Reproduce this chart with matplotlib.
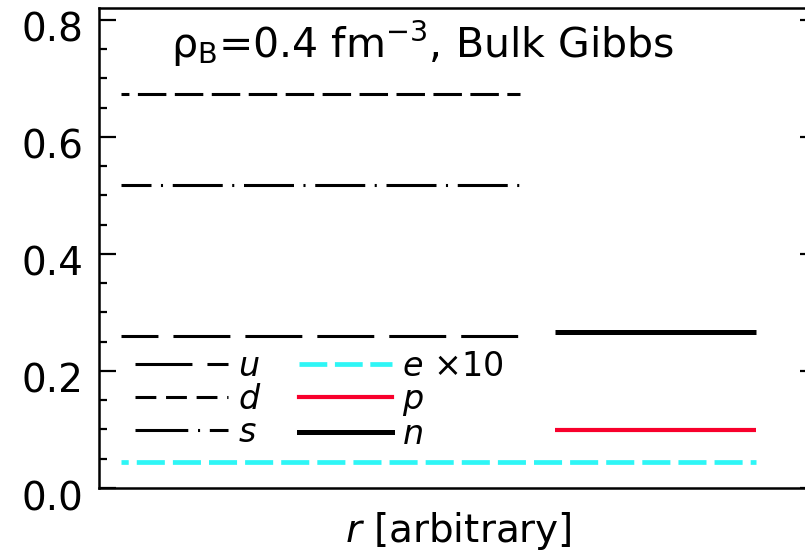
import matplotlib
matplotlib.use("Agg")
import matplotlib.pyplot as plt
import matplotlib.transforms as mtransforms
from matplotlib.lines import Line2D

plt.rcParams['font.family'] = ['DejaVu Sans']
plt.rcParams['mathtext.fontset'] = 'dejavusans'
plt.rcParams['lines.scale_dashes'] = False

# densities in each phase (fm^-3), electrons scaled by 10
quark_r = [0.03, 0.586]
hadron_r = [0.634, 0.914]
lepton_r = [0.03, 0.914]
n_u = 0.260
n_d = 0.673
n_s = 0.517
n_e10 = 0.045
n_p = 0.099
n_n = 0.266

fig = plt.figure(figsize=(8.05, 5.56), dpi=100)
ax = fig.add_axes([0.123, 0.1223, 0.8925, 0.8633])

lw_q = 2.2
ax.plot(quark_r, [n_d, n_d], color='k', lw=lw_q, linestyle=(14.8, (20.5, 6.1)))
ax.plot(quark_r, [n_s, n_s], color='k', lw=lw_q, linestyle=(14.4, (36, 6.8, 1.5, 7)))
ax.plot(quark_r, [n_u, n_u], color='k', lw=lw_q, linestyle=(14.4, (41, 10.8)))
ax.plot(hadron_r, [n_n, n_n], color='k', lw=3.6, solid_capstyle='butt')
ax.plot(hadron_r, [n_p, n_p], color='#f8002c', lw=3.0, solid_capstyle='butt')
ax.plot(lepton_r, [n_e10, n_e10], color='#2ef6f6', lw=3.4, linestyle=(15, (20.2, 5.8)))

# legend keys
handles = [
    Line2D([], [], color='k', lw=lw_q, linestyle=(0, (41, 10.8))),
    Line2D([], [], color='k', lw=lw_q, linestyle=(0, (15, 7))),
    Line2D([], [], color='k', lw=lw_q, linestyle=(0, (38, 7, 1.5, 7))),
    Line2D([], [], color='#2ef6f6', lw=3.4, linestyle=(0, (20, 5.5))),
    Line2D([], [], color='#f8002c', lw=3.0),
    Line2D([], [], color='k', lw=3.6),
]
labels = ['$u$', '$d$', '$s$', '$e$ ×10', '$p$', '$n$']
ax.legend(handles, labels, ncol=2, loc='upper left', bbox_to_anchor=(0.027, 0.322),
          frameon=False, fontsize=24, handlelength=2.8, handletextpad=0.3,
          columnspacing=1.12, labelspacing=0.0, borderpad=0)

ax.text(0.1, 0.895, r'ρ$_\mathrm{B}$=0.4 fm$^{-3}$, Bulk Gibbs', transform=ax.transAxes,
        fontsize=29.5)

ax.set_xlim(0, 1)
ax.set_ylim(0, 0.82)
ax.set_xticks([])
ax.set_yticks([0.0, 0.2, 0.4, 0.6, 0.8])
ax.set_yticklabels(['0.0', '0.2', '0.4', '0.6', '0.8'])
ax.set_yticks([0.05 * i for i in range(17) if i % 4], minor=True)
ax.tick_params(axis='y', which='both', direction='in', left=True, right=True,
               labelsize=28, width=1.6, pad=11)
ax.tick_params(axis='y', which='major', length=12)
ax.tick_params(axis='y', which='minor', length=6)
for sp in ax.spines.values():
    sp.set_linewidth(1.8)

shift = mtransforms.ScaledTranslation(0, -7 / 100, fig.dpi_scale_trans)
for lab in ax.get_yticklabels():
    lab.set_transform(lab.get_transform() + shift)

ax.set_xlabel('$r$ [arbitrary]', fontsize=28, labelpad=16)

fig.savefig('out.png', dpi=100)
